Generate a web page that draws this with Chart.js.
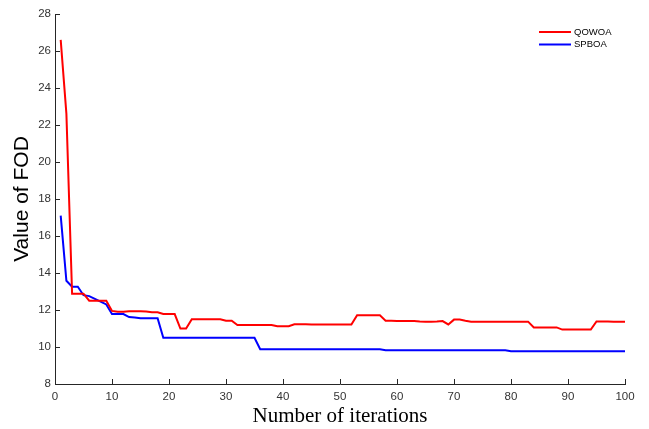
<!DOCTYPE html>
<html>
<head>
<meta charset="utf-8">
<script src="https://cdn.jsdelivr.net/npm/chart.js@4/dist/chart.umd.min.js"></script>
<style>
  html, body { margin: 0; padding: 0; background: #fff; }
  #wrap { width: 649px; height: 429px; }
</style>
</head>
<body>
<div id="wrap"><canvas id="fodChart" width="649" height="429"></canvas></div>
<script>
// iterations 1..100
const iterations = Array.from({ length: 100 }, (_, i) => i + 1);

const qowoa = [
  26.6, 22.6, 12.88, 12.88, 12.88, 12.5, 12.5, 12.5, 12.5, 11.95,
  11.9, 11.9, 11.93, 11.93, 11.93, 11.92, 11.88, 11.88, 11.78, 11.78,
  11.78, 11.0, 11.0, 11.5, 11.5, 11.5, 11.5, 11.5, 11.5, 11.42,
  11.42, 11.19, 11.19, 11.19, 11.19, 11.19, 11.19, 11.19, 11.12, 11.12,
  11.12, 11.23, 11.23, 11.23, 11.22, 11.22, 11.21, 11.21, 11.21, 11.21,
  11.21, 11.21, 11.72, 11.72, 11.71, 11.71, 11.71, 11.42, 11.42, 11.4,
  11.4, 11.4, 11.4, 11.38, 11.37, 11.37, 11.38, 11.4, 11.22, 11.48,
  11.48, 11.42, 11.37, 11.37, 11.37, 11.37, 11.37, 11.37, 11.37, 11.37,
  11.37, 11.37, 11.37, 11.06, 11.06, 11.06, 11.06, 11.06, 10.94, 10.94,
  10.94, 10.94, 10.94, 10.94, 11.38, 11.38, 11.38, 11.37, 11.37, 11.37
];

const spboa = [
  17.1, 13.58, 13.26, 13.26, 12.8, 12.75, 12.6, 12.45, 12.3, 11.78,
  11.78, 11.78, 11.62, 11.6, 11.55, 11.55, 11.55, 11.55, 10.5, 10.5,
  10.5, 10.5, 10.5, 10.5, 10.5, 10.5, 10.5, 10.5, 10.5, 10.5,
  10.5, 10.5, 10.5, 10.5, 10.5, 9.88, 9.88, 9.88, 9.88, 9.88,
  9.88, 9.88, 9.88, 9.88, 9.88, 9.88, 9.88, 9.88, 9.88, 9.88,
  9.88, 9.88, 9.88, 9.88, 9.88, 9.88, 9.88, 9.82, 9.82, 9.82,
  9.82, 9.82, 9.82, 9.82, 9.82, 9.82, 9.82, 9.82, 9.82, 9.82,
  9.82, 9.82, 9.82, 9.82, 9.82, 9.82, 9.82, 9.82, 9.82, 9.77,
  9.77, 9.77, 9.77, 9.77, 9.77, 9.77, 9.77, 9.77, 9.77, 9.77,
  9.77, 9.77, 9.77, 9.77, 9.77, 9.77, 9.77, 9.77, 9.77, 9.77
];

const seriesNames = ["QOWOA", "SPBOA"];
const seriesColors = ["#ff0000", "#0000ff"];

const xTicks = [0, 10, 20, 30, 40, 50, 60, 70, 80, 90, 100];
const yTicks = [8, 10, 12, 14, 16, 18, 20, 22, 24, 26, 28];

const axisColor = "#262626";

function toPoints(values) {
  return values.map((v, i) => ({ x: iterations[i], y: v }));
}

// short tick marks pointing into the plot, like matlab
const inwardTicks = {
  id: "inwardTicks",
  afterDraw(chart) {
    const ctx = chart.ctx;
    const xs = chart.scales.x;
    const ys = chart.scales.y;
    const area = chart.chartArea;
    ctx.save();
    ctx.strokeStyle = axisColor;
    ctx.lineWidth = 1;
    ctx.beginPath();
    xTicks.forEach(t => {
      const px = Math.round(xs.getPixelForValue(t)) + 0.5;
      ctx.moveTo(px, area.bottom);
      ctx.lineTo(px, area.bottom - 5);
    });
    yTicks.forEach(t => {
      const py = Math.round(ys.getPixelForValue(t)) + 0.5;
      ctx.moveTo(area.left, py);
      ctx.lineTo(area.left + 5, py);
    });
    ctx.stroke();
    ctx.restore();
  }
};

// legend box inside the top right corner
const innerLegend = {
  id: "innerLegend",
  afterDraw(chart) {
    const ctx = chart.ctx;
    const area = chart.chartArea;
    const x0 = area.right - 86;
    let y = area.top + 18;
    ctx.save();
    ctx.font = "9.5px 'Liberation Sans', Arial, sans-serif";
    ctx.textBaseline = "middle";
    chart.data.datasets.forEach(ds => {
      ctx.strokeStyle = ds.borderColor;
      ctx.lineWidth = 2;
      ctx.beginPath();
      ctx.moveTo(x0, y);
      ctx.lineTo(x0 + 32, y);
      ctx.stroke();
      ctx.fillStyle = "#000";
      ctx.fillText(ds.label, x0 + 35, y);
      y += 12.5;
    });
    ctx.restore();
  }
};

const ctx = document.getElementById("fodChart").getContext("2d");
new Chart(ctx, {
  type: "line",
  data: {
    datasets: [
      {
        label: seriesNames[0],
        data: toPoints(qowoa),
        borderColor: seriesColors[0],
        borderWidth: 2,
        pointRadius: 0,
        tension: 0,
        fill: false
      },
      {
        label: seriesNames[1],
        data: toPoints(spboa),
        borderColor: seriesColors[1],
        borderWidth: 2,
        pointRadius: 0,
        tension: 0,
        fill: false
      }
    ]
  },
  options: {
    responsive: false,
    animation: false,
    layout: { padding: { top: 14, right: 24, left: 0, bottom: 0 } },
    plugins: {
      legend: { display: false },
      tooltip: { enabled: false }
    },
    scales: {
      x: {
        type: "linear",
        min: 0,
        max: 100,
        afterBuildTicks: scale => { scale.ticks = xTicks.map(v => ({ value: v })); },
        afterFit: scale => { scale.height = 45; },
        grid: { display: false, drawTicks: false },
        border: { display: true, color: axisColor, width: 1 },
        ticks: {
          color: "#333",
          padding: 6,
          maxRotation: 0,
          font: { family: "'Liberation Sans', Arial, sans-serif", size: 11.5 }
        },
        title: {
          display: true,
          text: "Number of iterations",
          color: "#000",
          padding: { top: 0, bottom: 0 },
          font: { family: "'Liberation Serif', 'Times New Roman', serif", size: 21 }
        }
      },
      y: {
        type: "linear",
        min: 8,
        max: 28,
        afterBuildTicks: scale => { scale.ticks = yTicks.map(v => ({ value: v })); },
        afterFit: scale => { scale.width = 55; },
        grid: { display: false, drawTicks: false },
        border: { display: true, color: axisColor, width: 1 },
        ticks: {
          color: "#333",
          padding: 4,
          font: { family: "'Liberation Sans', Arial, sans-serif", size: 11.5 }
        },
        title: {
          display: true,
          text: "Value of FOD",
          color: "#000",
          padding: { top: 10, bottom: 0 },
          font: { family: "'Liberation Sans', Arial, sans-serif", size: 21 }
        }
      }
    }
  },
  plugins: [inwardTicks, innerLegend]
});
</script>
</body>
</html>
